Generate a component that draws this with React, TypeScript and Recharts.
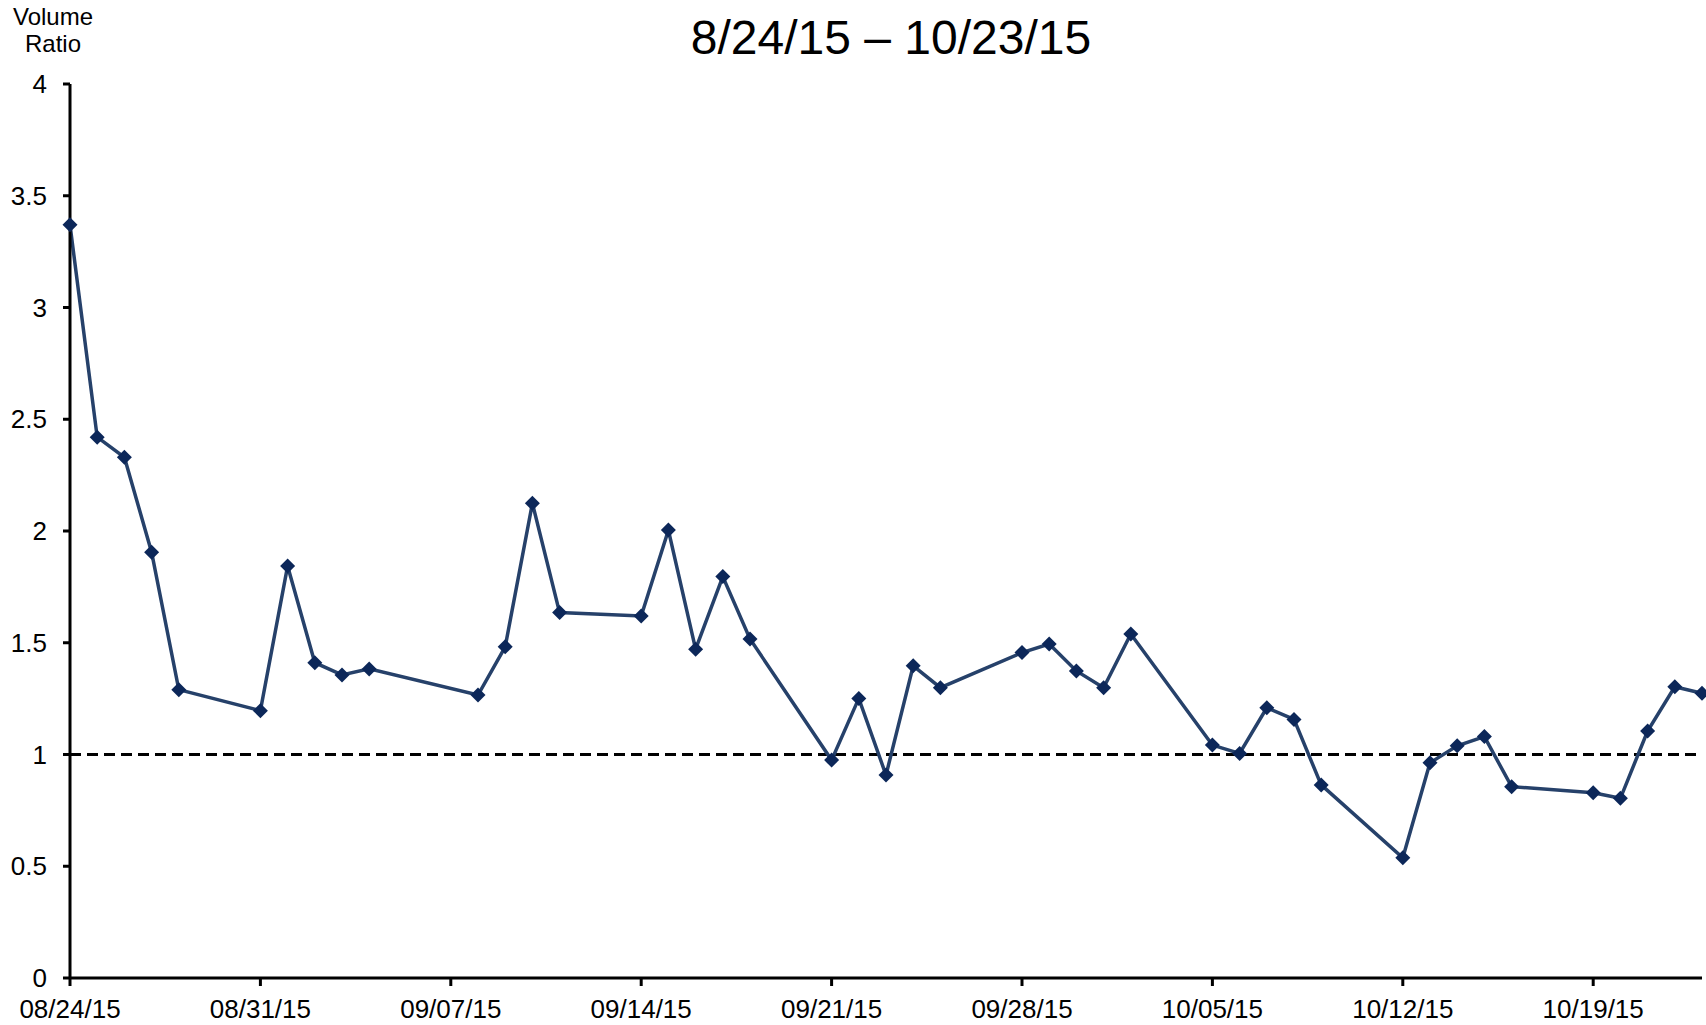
import { LineChart, Line, XAxis, YAxis, ReferenceLine } from 'recharts';

const dates = [
  '08/24/15', '08/25/15', '08/26/15', '08/27/15', '08/28/15',
  '08/31/15', '09/01/15', '09/02/15', '09/03/15', '09/04/15',
  '09/08/15', '09/09/15', '09/10/15', '09/11/15',
  '09/14/15', '09/15/15', '09/16/15', '09/17/15', '09/18/15',
  '09/21/15', '09/22/15', '09/23/15', '09/24/15', '09/25/15',
  '09/28/15', '09/29/15', '09/30/15', '10/01/15', '10/02/15',
  '10/05/15', '10/06/15', '10/07/15', '10/08/15', '10/09/15',
  '10/12/15', '10/13/15', '10/14/15', '10/15/15', '10/16/15',
  '10/19/15', '10/20/15', '10/21/15', '10/22/15', '10/23/15',
];

const volumeRatio = [
  3.37, 2.42, 2.33, 1.905, 1.29,
  1.196, 1.843, 1.411, 1.356, 1.383,
  1.266, 1.482, 2.124, 1.635,
  1.62, 2.004, 1.471, 1.796, 1.517,
  0.975, 1.251, 0.908, 1.397, 1.299,
  1.456, 1.494, 1.374, 1.299, 1.539,
  1.042, 1.005, 1.209, 1.157, 0.864,
  0.538, 0.963, 1.039, 1.08, 0.856,
  0.829, 0.804, 1.105, 1.303, 1.274,
];

const xTickDates = [
  '08/24/15', '08/31/15', '09/07/15', '09/14/15', '09/21/15',
  '09/28/15', '10/05/15', '10/12/15', '10/19/15',
];

const yTicks = [0, 0.5, 1, 1.5, 2, 2.5, 3, 3.5, 4];

const title = '8/24/15 – 10/23/15';
const baseline = 1;

// 'MM/DD/YY' -> day number
const toDay = (s: string) => {
  const [m, d, y] = s.split('/').map(Number);
  return Date.UTC(2000 + y, m - 1, d) / 86400000;
};

const data = dates.map((d, i) => ({ day: toDay(d), ratio: volumeRatio[i] }));
const xTicks = xTickDates.map(toDay);
const labelByDay: Record<number, string> = {};
xTickDates.forEach((d) => { labelByDay[toDay(d)] = d; });

const FONT = "'Liberation Sans', Arial, sans-serif";

const Diamond = (props: any) => {
  const { cx, cy, index } = props;
  if (cx == null || cy == null) return null;
  const r = 7.5;
  return (
    <path
      key={`dot-${index}`}
      d={`M${cx},${cy - r}L${cx + r},${cy}L${cx},${cy + r}L${cx - r},${cy}Z`}
      fill="#0c2759"
    />
  );
};

export default function App() {
  return (
    <div style={{ position: 'absolute', left: 0, top: 0, width: 1706, height: 1025, background: '#fff' }}>
      <LineChart
        width={1706}
        height={1025}
        data={data}
        margin={{ top: 84, right: 4, left: 0, bottom: 0 }}
      >
        <XAxis
          dataKey="day"
          type="number"
          domain={[toDay(dates[0]), toDay(dates[dates.length - 1])]}
          ticks={xTicks}
          tickFormatter={(v: number) => labelByDay[v] ?? ''}
          height={47}
          tickSize={8}
          tickMargin={14}
          axisLine={{ stroke: '#000', strokeWidth: 3 }}
          tickLine={{ stroke: '#000', strokeWidth: 3 }}
          tick={{ fill: '#000', fontSize: 26, fontFamily: FONT }}
        />
        <YAxis
          type="number"
          domain={[0, 4]}
          ticks={yTicks}
          width={70}
          tickSize={7}
          tickMargin={16}
          axisLine={{ stroke: '#000', strokeWidth: 3 }}
          tickLine={{ stroke: '#000', strokeWidth: 3 }}
          tick={{ fill: '#000', fontSize: 26, fontFamily: FONT }}
        />
        <ReferenceLine y={baseline} stroke="#000" strokeWidth={3} strokeDasharray="11 6" />
        <Line
          type="linear"
          dataKey="ratio"
          stroke="#26416a"
          strokeWidth={3.5}
          dot={Diamond}
          activeDot={false}
          isAnimationActive={false}
        />
      </LineChart>
      <svg
        width={1706}
        height={80}
        style={{ position: 'absolute', left: 0, top: 0, pointerEvents: 'none' }}
      >
        <text x={891} y={54} textAnchor="middle" fontFamily={FONT} fontSize={48} fill="#000">
          {title}
        </text>
        <text x={53} y={25} textAnchor="middle" fontFamily={FONT} fontSize={24} fill="#000">
          Volume
        </text>
        <text x={53} y={52} textAnchor="middle" fontFamily={FONT} fontSize={24} fill="#000">
          Ratio
        </text>
      </svg>
    </div>
  );
}
